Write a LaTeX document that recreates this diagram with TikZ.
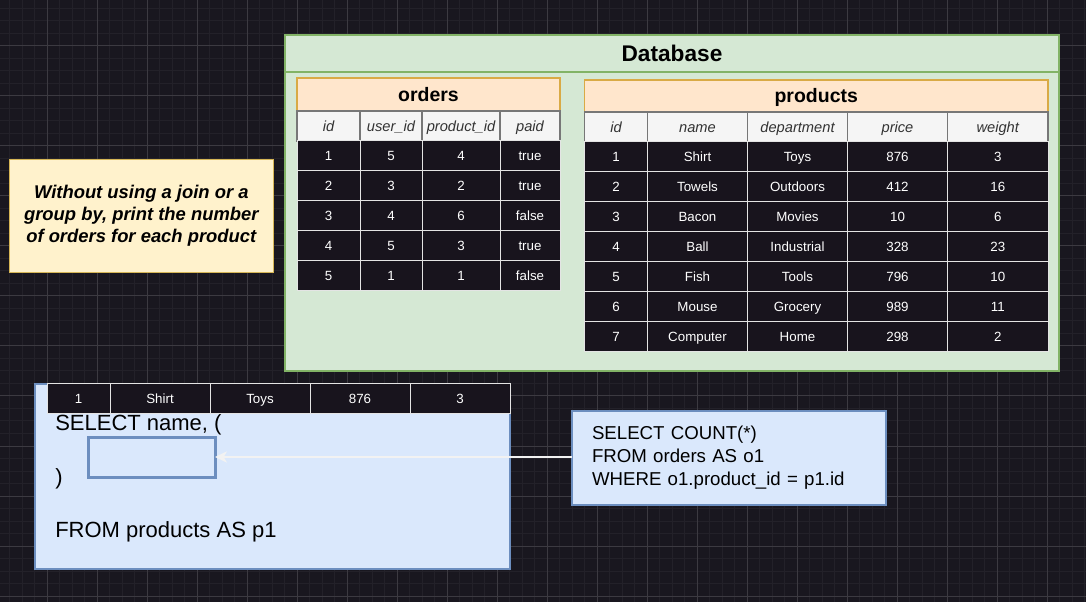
\documentclass[tikz,border=0pt]{standalone}
\usepackage{fontspec}
\setmainfont{Liberation Sans}
\usetikzlibrary{arrows.meta}

\definecolor{bgdark}{HTML}{19171F}
\definecolor{gridminor}{HTML}{232129}
\definecolor{gridmajor}{HTML}{3C3A41}
\definecolor{dbfill}{HTML}{D5E8D4}
\definecolor{dbline}{HTML}{82B366}
\definecolor{titlefill}{HTML}{FFE6CC}
\definecolor{titleline}{HTML}{D9AA45}
\definecolor{headfill}{HTML}{F5F5F5}
\definecolor{headline}{HTML}{777777}
\definecolor{headtext}{HTML}{333333}
\definecolor{rowfill}{HTML}{18141D}
\definecolor{rowline}{HTML}{E4E4E4}
\definecolor{notefill}{HTML}{FFF2CC}
\definecolor{noteline}{HTML}{D6B656}
\definecolor{sqlfill}{HTML}{DAE8FC}
\definecolor{sqlline}{HTML}{6C8EBF}
\definecolor{arrowgray}{HTML}{F2F2F2}

\tikzset{
  tbl/.style={outer sep=0pt, inner sep=0pt, text depth=0pt},
  titlecell/.style={tbl, draw=titleline, fill=titlefill, line width=0.9pt, text height=10.45pt,
    font=\fontsize{14.6}{17}\selectfont\bfseries},
  headcell/.style={tbl, draw=headline, fill=headfill, text=headtext, line width=1pt, text height=7.9pt,
    minimum height=22.5pt, font=\fontsize{11}{13}\selectfont\itshape},
  datacell/.style={tbl, draw=rowline, fill=rowfill, text=white, line width=0.75pt, text height=7.16pt,
    minimum height=22.5pt, font=\fontsize{10}{12}\selectfont},
  dbbox/.style={tbl, draw=dbline, fill=dbfill, line width=1.1pt, text height=12.2pt},
  notebox/.style={outer sep=0pt, inner sep=0pt, draw=noteline, fill=notefill, line width=0.9pt, align=center,
    font=\fontsize{13.8}{16.5}\selectfont\bfseries\itshape},
  sqlbox/.style={outer sep=0pt, draw=sqlline, fill=sqlfill, line width=0.9pt, align=left},
  sqltext/.style={anchor=base west, inner sep=0pt, font=\fontsize{16.5}{19.9}\selectfont},
  link/.style={draw=arrowgray, line width=1.1pt, -{Stealth[length=9pt,width=8.5pt,inset=2.5pt]}}
}

\begin{document}
\begin{tikzpicture}[x=0.75pt, y=-0.75pt]
  \useasboundingbox (0,0) rectangle (1086,602);

  % dark canvas with grid
  \fill[bgdark] (0,0) rectangle (1086,602);
  \foreach \x in {9.5,22,...,1085} \draw[gridminor, line width=0.75pt] (\x,0) -- (\x,602);
  \foreach \y in {8.5,21,...,601} \draw[gridminor, line width=0.75pt] (0,\y) -- (1086,\y);
  \foreach \x in {47,97,...,1085} \draw[gridmajor, line width=0.75pt] (\x,0) -- (\x,602);
  \foreach \y in {46,96,...,601} \draw[gridmajor, line width=0.75pt] (0,\y) -- (1086,\y);

  % database container
  \node[dbbox, minimum width=580.5pt, minimum height=252pt] (db) at (672,203) {};
  \node[dbbox, minimum width=580.5pt, minimum height=27.75pt, anchor=north,
    font=\fontsize{17}{20}\selectfont\bfseries] (dbtitle) at (db.north) {Database};

  % orders table
  \def\ocols{{297,360,422,500,560}}
  \node[titlecell, minimum width=197.25pt, minimum height=24.75pt, anchor=north west] (orders) at (297,78) {orders};
  \foreach \lbl [count=\c] in {id,user\_id,product\_id,paid}{
    \pgfmathsetmacro\xl{\ocols[\c-1]}
    \pgfmathsetmacro\xr{\ocols[\c]}
    \node[headcell, minimum width={(\xr-\xl)*0.75pt}, anchor=north west] (ord-h-\c) at (\xl,111) {\lbl};
  }
  \foreach \row [count=\i] in {{1,5,4,true},{2,3,2,true},{3,4,6,false},{4,5,3,true},{5,1,1,false}}{
    \foreach \v [count=\c] in \row {
      \pgfmathsetmacro\xl{\ocols[\c-1]}
      \pgfmathsetmacro\xr{\ocols[\c]}
      \node[datacell, minimum width={(\xr-\xl)*0.75pt}, anchor=north west] (ord-\i-\c) at (\xl,{111+30*\i}) {\v};
    }
  }

  % products table
  \def\pcols{{584.5,647.5,747.5,847.5,947.5,1048}}
  \node[titlecell, minimum width=347.6pt, minimum height=24pt, anchor=north west] (products) at (584.5,80) {products};
  \foreach \lbl [count=\c] in {id,name,department,price,weight}{
    \pgfmathsetmacro\xl{\pcols[\c-1]}
    \pgfmathsetmacro\xr{\pcols[\c]}
    \node[headcell, minimum width={(\xr-\xl)*0.75pt}, anchor=north west] (prod-h-\c) at (\xl,112) {\lbl};
  }
  \foreach \row [count=\i] in {{1,Shirt,Toys,876,3},{2,Towels,Outdoors,412,16},{3,Bacon,Movies,10,6},
      {4,Ball,Industrial,328,23},{5,Fish,Tools,796,10},{6,Mouse,Grocery,989,11},{7,Computer,Home,298,2}}{
    \foreach \v [count=\c] in \row {
      \pgfmathsetmacro\xl{\pcols[\c-1]}
      \pgfmathsetmacro\xr{\pcols[\c]}
      \node[datacell, minimum width={(\xr-\xl)*0.75pt}, anchor=north west] (prod-\i-\c) at (\xl,{112+30*\i}) {\v};
    }
  }

  % the task
  \node[notebox, minimum width=198pt, minimum height=84.3pt] (task) at (141.3,216)
    {Without using a join or a\\group by, print the number\\of orders for each product};

  % outer query with one product row on top
  \node[sqlbox, minimum width=356.25pt, minimum height=138.75pt] (outer) at (272.5,476.5) {};
  \node[sqltext] (sel) at (55,431) {SELECT name, (};
  \node[sqltext] (paren) at (55,484) {)};
  \node[sqltext] (from) at (55,537) {FROM products AS p1};
  \node[sqlbox, line width=2.25pt, minimum width=95.25pt, minimum height=30pt] (slot) at (151.5,457) {};
  \def\rcols{{47,110,210,310,410,510}}
  \foreach \v [count=\c] in {1,Shirt,Toys,876,3}{
    \pgfmathsetmacro\xl{\rcols[\c-1]}
    \pgfmathsetmacro\xr{\rcols[\c]}
    \node[datacell, minimum width={(\xr-\xl)*0.75pt}, anchor=north west] (cur-\c) at (\xl,384) {\v};
  }

  % subquery
  \node[sqlbox, minimum width=235.5pt, minimum height=70.5pt, text width=205.5pt, inner xsep=15pt,
    font=\fontsize{14}{17.25}\selectfont] (sub) at (729,458)
    {SELECT COUNT(*)\\FROM orders AS o1\\WHERE o1.product\_id = p1.id};
  \draw[link] (slot.east -| sub.west) -- (slot.east);
\end{tikzpicture}
\end{document}
